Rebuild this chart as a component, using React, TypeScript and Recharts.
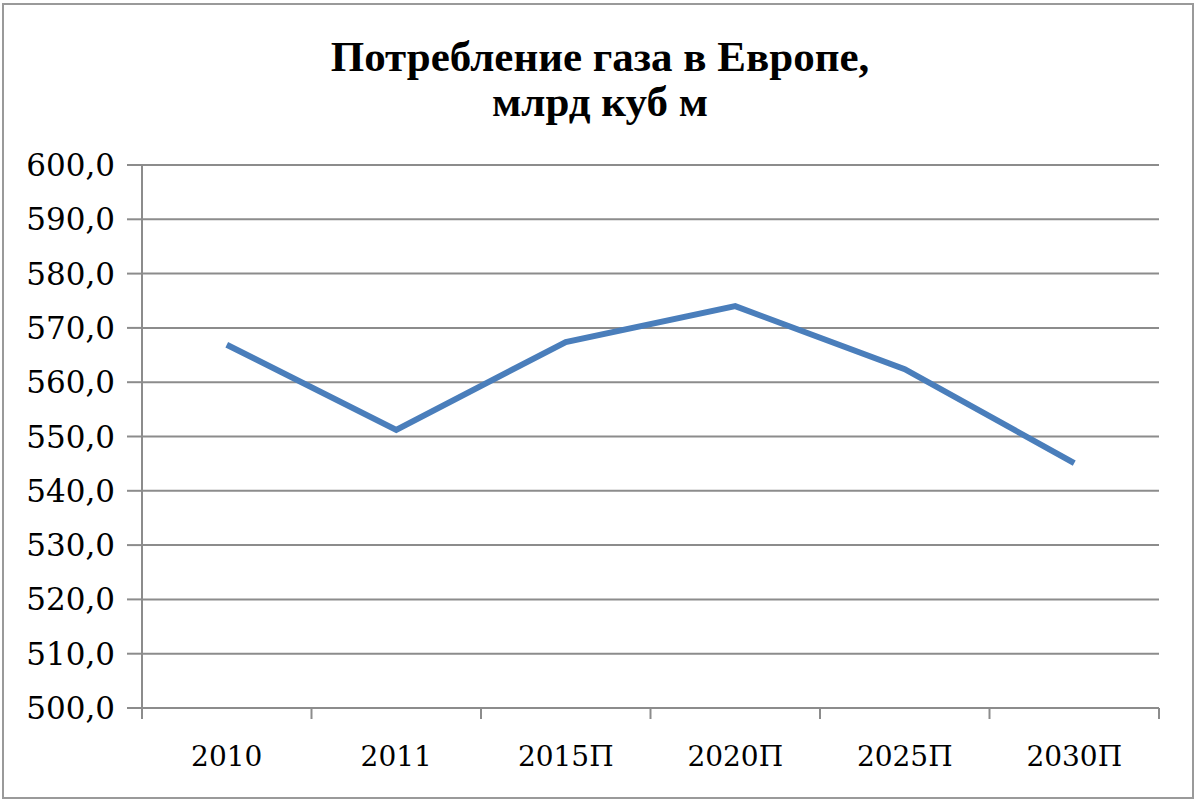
import { LineChart, Line, XAxis, YAxis, CartesianGrid } from 'recharts';

const years = ['2010', '2011', '2015П', '2020П', '2025П', '2030П'];
const consumption = [566.9, 551.2, 567.4, 574.0, 562.4, 545.1];
const yTicks = [500, 510, 520, 530, 540, 550, 560, 570, 580, 590, 600];
const boundaryTicks = [0, 1, 2, 3, 4, 5, 6];

const data = years.map((year, i) => ({ year, pos: i + 0.5, value: consumption[i] }));

const gridColor = '#8c8c8c';
const labelFont = '"DejaVu Serif", serif';

export default function App() {
    return (
        <div
            style={{
                position: 'fixed',
                left: 0,
                top: 0,
                width: 1200,
                height: 800,
                background: '#fff',
            }}
        >
            <div
                style={{
                    position: 'absolute',
                    left: 2,
                    top: 3,
                    width: 1188,
                    height: 792,
                    border: '2px solid #9a9a9a',
                }}
            />
            <div
                style={{
                    position: 'absolute',
                    left: 0,
                    top: 34,
                    width: 1200,
                    textAlign: 'center',
                    fontFamily: '"Liberation Serif", serif',
                    fontWeight: 'bold',
                    fontSize: 43,
                    lineHeight: '45px',
                    color: '#000',
                }}
            >
                Потребление газа в Европе,
                <br />
                млрд куб м
            </div>
            <LineChart
                width={1200}
                height={800}
                data={data}
                margin={{ top: 165, right: 41, left: 0, bottom: 32 }}
                style={{ position: 'absolute', left: 0, top: 0 }}
            >
                <CartesianGrid vertical={false} stroke={gridColor} strokeWidth={2} />
                {/* boundary ticks between categories, like Excel */}
                <XAxis
                    xAxisId="bounds"
                    dataKey="pos"
                    type="number"
                    domain={[0, 6]}
                    ticks={boundaryTicks}
                    interval={0}
                    height={12}
                    axisLine={{ stroke: gridColor, strokeWidth: 2 }}
                    tickLine={{ stroke: gridColor, strokeWidth: 2 }}
                    tickSize={11}
                    tickFormatter={() => ''}
                />
                <XAxis
                    xAxisId="years"
                    dataKey="year"
                    type="category"
                    scale="band"
                    height={48}
                    axisLine={false}
                    tickLine={false}
                    tick={{ fill: '#000', fontSize: 28, fontFamily: labelFont }}
                    dy={18}
                />
                <YAxis
                    domain={[500, 600]}
                    ticks={yTicks}
                    width={142}
                    interval={0}
                    axisLine={{ stroke: gridColor, strokeWidth: 2 }}
                    tickLine={{ stroke: gridColor, strokeWidth: 2 }}
                    tickSize={15}
                    tickMargin={12}
                    tick={{ fill: '#000', fontSize: 31, fontFamily: labelFont }}
                    tickFormatter={(v: number) => v.toFixed(1).replace('.', ',')}
                />
                <Line
                    xAxisId="years"
                    type="linear"
                    dataKey="value"
                    stroke="#4a7ebb"
                    strokeWidth={6}
                    dot={false}
                    isAnimationActive={false}
                />
            </LineChart>
        </div>
    );
}
